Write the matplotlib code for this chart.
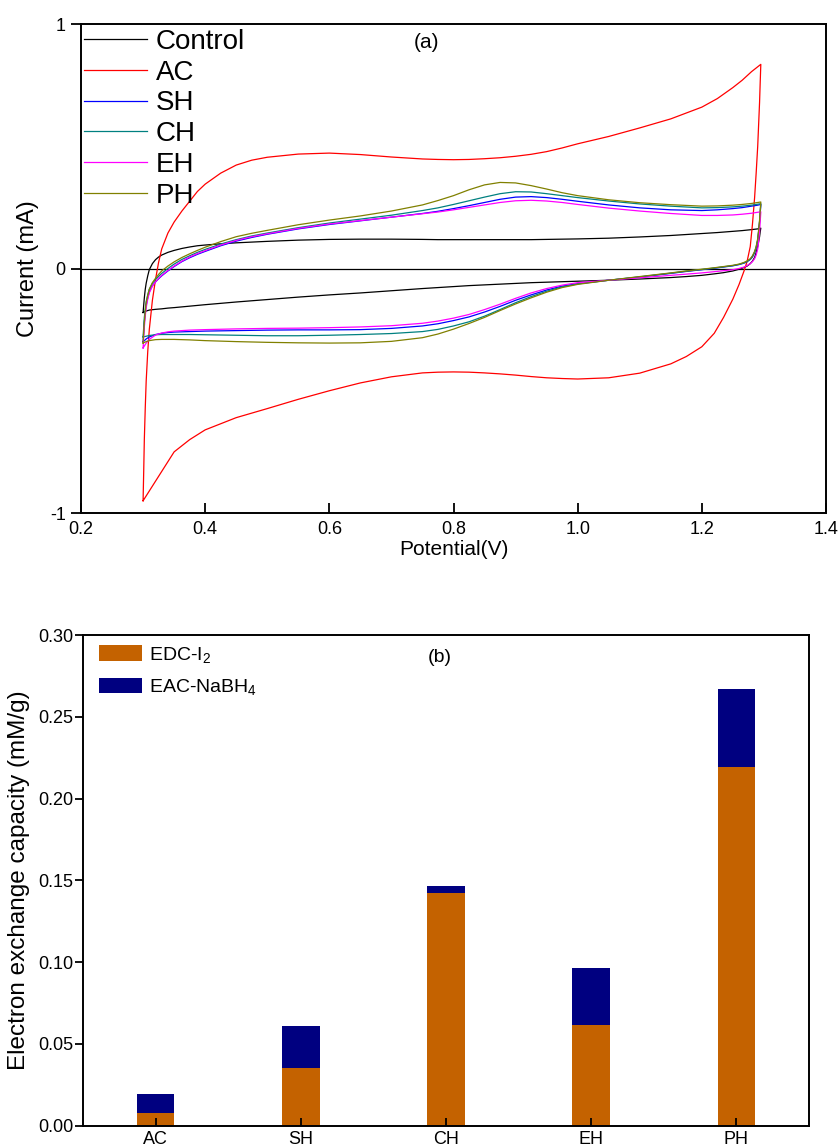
import matplotlib
matplotlib.use('Agg')
import matplotlib.pyplot as plt
import numpy as np

# ---- (a) cyclic voltammetry ----
# forward scan potentials (V)
E_fwd = [0.300, 0.301, 0.302, 0.3035, 0.305, 0.3075, 0.310, 0.315, 0.320, 0.325,
         0.330, 0.340, 0.350, 0.3625, 0.375, 0.3875, 0.400, 0.425, 0.450, 0.475,
         0.500, 0.550, 0.600, 0.650, 0.700, 0.750, 0.775, 0.800, 0.825, 0.850,
         0.875, 0.900, 0.925, 0.950, 0.975, 1.000, 1.050, 1.100, 1.150, 1.200,
         1.225, 1.250, 1.265, 1.280, 1.290, 1.295]
# reverse scan potentials (V)
E_rev = [1.295, 1.294, 1.293, 1.2915, 1.290, 1.2875, 1.285, 1.2815, 1.278, 1.273,
         1.268, 1.260, 1.250, 1.235, 1.220, 1.200, 1.175, 1.150, 1.100, 1.050,
         1.000, 0.975, 0.950, 0.925, 0.900, 0.875, 0.850, 0.825, 0.800, 0.775,
         0.750, 0.700, 0.650, 0.600, 0.550, 0.500, 0.450, 0.400, 0.375, 0.350,
         0.340, 0.330, 0.320, 0.310, 0.305, 0.300]

# currents (mA)
control_fwd = [-0.18, -0.15, -0.12, -0.085, -0.06, -0.03, -0.005, 0.02, 0.036, 0.047,
               0.055, 0.066, 0.074, 0.082, 0.088, 0.093, 0.096, 0.101, 0.105, 0.108,
               0.111, 0.116, 0.119, 0.12, 0.12, 0.119, 0.118, 0.118, 0.118, 0.118,
               0.118, 0.118, 0.118, 0.119, 0.12, 0.121, 0.124, 0.129, 0.135, 0.143,
               0.147, 0.152, 0.155, 0.159, 0.162, 0.165]
control_rev = [0.165, 0.15, 0.13, 0.11, 0.09, 0.065, 0.045, 0.03, 0.02, 0.01,
               0.004, -0.003, -0.01, -0.017, -0.022, -0.028, -0.033, -0.037, -0.043, -0.048,
               -0.052, -0.054, -0.056, -0.058, -0.061, -0.064, -0.067, -0.07, -0.074, -0.078,
               -0.082, -0.091, -0.10, -0.108, -0.117, -0.127, -0.137, -0.148, -0.154, -0.16,
               -0.162, -0.165, -0.167, -0.17, -0.174, -0.18]

ac_fwd = [-0.95, -0.83, -0.70, -0.57, -0.46, -0.34, -0.25, -0.13, -0.045, 0.025,
          0.08, 0.145, 0.19, 0.235, 0.275, 0.315, 0.345, 0.39, 0.423, 0.443,
          0.455, 0.468, 0.472, 0.466, 0.456, 0.448, 0.446, 0.445, 0.446, 0.449,
          0.453, 0.459, 0.467, 0.478, 0.493, 0.51, 0.54, 0.575, 0.612, 0.66,
          0.695, 0.74, 0.77, 0.805, 0.825, 0.835]
ac_rev = [0.835, 0.76, 0.68, 0.59, 0.50, 0.39, 0.29, 0.18, 0.09, 0.03,
          -0.01, -0.065, -0.125, -0.20, -0.265, -0.32, -0.36, -0.39, -0.428, -0.447,
          -0.452, -0.45, -0.447, -0.442, -0.436, -0.431, -0.427, -0.424, -0.423, -0.424,
          -0.427, -0.443, -0.468, -0.50, -0.535, -0.573, -0.61, -0.66, -0.70, -0.75,
          -0.79, -0.83, -0.87, -0.91, -0.93, -0.95]

sh_fwd = [-0.30, -0.26, -0.22, -0.18, -0.15, -0.12, -0.095, -0.07, -0.055, -0.042,
          -0.03, -0.01, 0.008, 0.028, 0.044, 0.058, 0.07, 0.093, 0.112, 0.127,
          0.14, 0.162, 0.18, 0.195, 0.21, 0.225, 0.234, 0.245, 0.257, 0.27,
          0.283, 0.292, 0.294, 0.29, 0.283, 0.275, 0.26, 0.248, 0.24, 0.237,
          0.24, 0.245, 0.249, 0.255, 0.259, 0.262]
sh_rev = [0.262, 0.225, 0.19, 0.15, 0.115, 0.085, 0.065, 0.047, 0.037, 0.028,
          0.022, 0.016, 0.011, 0.006, 0.001, -0.005, -0.012, -0.02, -0.035, -0.048,
          -0.062, -0.072, -0.088, -0.108, -0.13, -0.155, -0.178, -0.198, -0.213, -0.226,
          -0.235, -0.245, -0.25, -0.251, -0.251, -0.252, -0.254, -0.256, -0.258, -0.26,
          -0.262, -0.265, -0.27, -0.28, -0.288, -0.30]

ch_fwd = [-0.28, -0.24, -0.20, -0.165, -0.135, -0.108, -0.085, -0.06, -0.045, -0.032,
          -0.02, 0.0, 0.018, 0.037, 0.052, 0.066, 0.078, 0.10, 0.118, 0.133,
          0.145, 0.167, 0.186, 0.202, 0.218, 0.237, 0.248, 0.262, 0.277, 0.292,
          0.306, 0.314, 0.313, 0.306, 0.298, 0.29, 0.276, 0.264, 0.255, 0.248,
          0.249, 0.252, 0.255, 0.259, 0.263, 0.265]
ch_rev = [0.265, 0.228, 0.192, 0.152, 0.117, 0.087, 0.067, 0.049, 0.038, 0.029,
          0.023, 0.017, 0.012, 0.007, 0.002, -0.004, -0.011, -0.019, -0.034, -0.048,
          -0.063, -0.075, -0.093, -0.115, -0.14, -0.168, -0.195, -0.218, -0.235, -0.249,
          -0.258, -0.266, -0.27, -0.273, -0.275, -0.275, -0.273, -0.271, -0.27, -0.27,
          -0.27, -0.27, -0.271, -0.274, -0.277, -0.28]

eh_fwd = [-0.325, -0.28, -0.24, -0.195, -0.16, -0.125, -0.10, -0.072, -0.055, -0.04,
          -0.028, -0.008, 0.01, 0.03, 0.047, 0.061, 0.073, 0.096, 0.115, 0.13,
          0.142, 0.164, 0.182, 0.196, 0.21, 0.224, 0.231, 0.24, 0.25, 0.26,
          0.27, 0.277, 0.279, 0.276, 0.27, 0.262, 0.247, 0.235, 0.225, 0.217,
          0.217, 0.219, 0.222, 0.226, 0.23, 0.232]
eh_rev = [0.232, 0.19, 0.15, 0.11, 0.08, 0.055, 0.04, 0.028, 0.02, 0.012,
          0.006, 0.0, -0.005, -0.009, -0.013, -0.018, -0.023, -0.028, -0.038, -0.048,
          -0.058, -0.068, -0.082, -0.10, -0.122, -0.146, -0.168, -0.188, -0.203, -0.215,
          -0.224, -0.234, -0.239, -0.242, -0.244, -0.245, -0.247, -0.25, -0.252, -0.256,
          -0.259, -0.264, -0.272, -0.29, -0.305, -0.325]

ph_fwd = [-0.305, -0.26, -0.22, -0.175, -0.14, -0.11, -0.085, -0.058, -0.04, -0.024,
          -0.01, 0.01, 0.027, 0.045, 0.06, 0.074, 0.087, 0.11, 0.13, 0.144,
          0.156, 0.179, 0.198, 0.215, 0.235, 0.26, 0.278, 0.298, 0.322, 0.342,
          0.352, 0.35, 0.339, 0.325, 0.31, 0.298, 0.281, 0.269, 0.261, 0.255,
          0.256, 0.259, 0.262, 0.266, 0.27, 0.272]
ph_rev = [0.272, 0.235, 0.198, 0.158, 0.122, 0.09, 0.07, 0.052, 0.04, 0.031,
          0.025, 0.018, 0.013, 0.008, 0.003, -0.003, -0.01, -0.018, -0.033, -0.048,
          -0.065, -0.078, -0.097, -0.12, -0.145, -0.172, -0.2, -0.225, -0.248, -0.268,
          -0.283, -0.298, -0.304, -0.305, -0.304, -0.302, -0.299, -0.295, -0.292, -0.29,
          -0.29, -0.29, -0.291, -0.295, -0.299, -0.305]

cv_names = ["Control", "AC", "SH", "CH", "EH", "PH"]
cv_colors = ["black", "red", "blue", "#008080", "magenta", "#808000"]

# ---- (b) electron exchange capacity (mM/g) ----
samples = ["AC", "SH", "CH", "EH", "PH"]
edc_i2 = [0.0076, 0.0355, 0.142, 0.0618, 0.219]
eac_total = [0.0194, 0.061, 0.1467, 0.0963, 0.267]


def main():
    plt.rcParams['font.family'] = ['Liberation Sans', 'DejaVu Sans']
    plt.rcParams['mathtext.default'] = 'regular'
    W, H = 838, 1147
    fig = plt.figure(figsize=(W / 100, H / 100), dpi=100)

    # ---------------- top panel ----------------
    ax = fig.add_axes([81 / W, 1 - 513 / H, 745 / W, 489 / H])
    fwd = [control_fwd, ac_fwd, sh_fwd, ch_fwd, eh_fwd, ph_fwd]
    rev = [control_rev, ac_rev, sh_rev, ch_rev, eh_rev, ph_rev]
    for name, col, f, r in zip(cv_names, cv_colors, fwd, rev):
        x = np.concatenate([E_fwd, E_rev])
        y = np.concatenate([f, r])
        ax.plot(x, y, color=col, lw=0.9, label=name)
    ax.axhline(0, color='black', lw=0.9, zorder=0)

    ax.set_xlim(0.2, 1.4)
    ax.set_ylim(-1, 1)
    ax.set_xticks([0.2, 0.4, 0.6, 0.8, 1.0, 1.2, 1.4])
    ax.set_xticklabels(['0.2', '0.4', '0.6', '0.8', '1.0', '1.2', '1.4'])
    ax.set_yticks([-1, 0, 1])
    ax.set_yticklabels(['-1', '0', '1'])
    ax.tick_params(axis='x', direction='in', length=7, width=1.3, labelsize=13, pad=6)
    ax.tick_params(axis='y', direction='out', length=7, width=1.3, labelsize=13, pad=4)
    for s in ax.spines.values():
        s.set_linewidth(1.4)
    ax.set_xlabel("Potential(V)", fontsize=15, labelpad=1)
    ax.set_ylabel("Current (mA)", fontsize=17, labelpad=8)
    ax.text(0.757, 0.925, "(a)", fontsize=15, ha='center', va='center')
    ax.legend(loc='upper left', frameon=False, fontsize=20, handlelength=2.27,
              handletextpad=0.32, labelspacing=0.17, borderaxespad=0.0,
              borderpad=0.0, bbox_to_anchor=(0.004, 0.99))

    # ---------------- bottom panel ----------------
    bx = fig.add_axes([83 / W, 1 - 1125.7 / H, 726 / W, 490.7 / H])
    pos = np.arange(len(samples))
    top_part = np.array(eac_total) - np.array(edc_i2)
    bx.bar(pos, edc_i2, width=0.26, color='#C46200', label=r'EDC-I$_2$')
    bx.bar(pos, top_part, width=0.26, bottom=edc_i2, color='#000080',
           label=r'EAC-NaBH$_4$')
    bx.set_xlim(-0.5, 4.5)
    bx.set_ylim(0, 0.30)
    bx.set_xticks(pos)
    bx.set_xticklabels(samples)
    bx.set_yticks(np.arange(0, 0.301, 0.05))
    bx.set_yticklabels(['0.00', '0.05', '0.10', '0.15', '0.20', '0.25', '0.30'])
    bx.tick_params(axis='x', direction='in', length=6, width=1.3, labelsize=13, pad=4)
    bx.tick_params(axis='y', direction='out', length=6, width=1.3, labelsize=13, pad=1)
    for s in bx.spines.values():
        s.set_linewidth(1.4)
    bx.set_ylabel("Electron exchange capacity (mM/g)", fontsize=17.5, labelpad=6)
    bx.text(1.955, 0.286, "(b)", fontsize=14, ha='center', va='center')
    bx.legend(loc='upper left', frameon=False, fontsize=14, handlelength=2.2,
              handleheight=0.85, handletextpad=0.35, labelspacing=0.65,
              borderaxespad=0.0, borderpad=0.0, bbox_to_anchor=(0.022, 0.98))

    fig.savefig("out.png", dpi=100)


if __name__ == "__main__":
    main()
